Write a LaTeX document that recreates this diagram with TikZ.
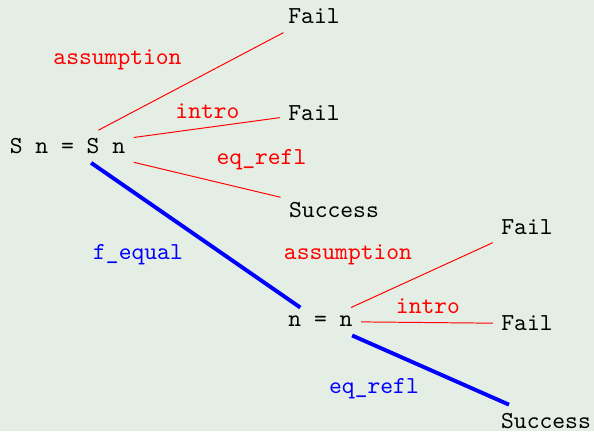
\documentclass[tikz,border=0pt]{standalone}
\usepackage{xcolor}
\definecolor{bgcol}{RGB}{229,238,228}
\begin{document}
\begin{tikzpicture}[x=0.41pt,y=-0.41pt,font=\ttfamily,
  try/.style={red},
  good/.style={blue, ultra thick}]
 \fill[bgcol] (0,0) rectangle (594,431);
 \useasboundingbox (0,0) rectangle (594,431);
 % goals
 \node (root) at (67.5,146.5) {S n = S n};
 \node (fa) at (314,16.5) {Fail};
 \node (fb) at (314,113) {Fail};
 \node (sa) at (334,210) {Success};
 \node (nn) at (320.5,321.5) {n = n};
 \node (fc) at (527,227) {Fail};
 \node (fd) at (527,323.5) {Fail};
 \node (sb) at (546,421) {Success};
 % tactics
 \draw[try] (root) -- (fa);
 \draw[try] (root) -- (fb);
 \draw[try] (root) -- (sa);
 \draw[good] (root) -- (nn);
 \draw[try] (nn) -- (fc);
 \draw[try] (nn) -- (fd);
 \draw[good] (nn) -- (sb);
 \node[red] (la) at (117.5,60) {assumption};
 \node[red] (lb) at (207.5,111) {intro};
 \node[red] (lc) at (261.5,159.5) {eq\_refl};
 \node[blue] (ld) at (138,255) {f\_equal};
 \node[red] (le) at (348,255) {assumption};
 \node[red] (lf) at (428,306.5) {intro};
 \node[blue] (lg) at (374,388.5) {eq\_refl};
\end{tikzpicture}
\end{document}
